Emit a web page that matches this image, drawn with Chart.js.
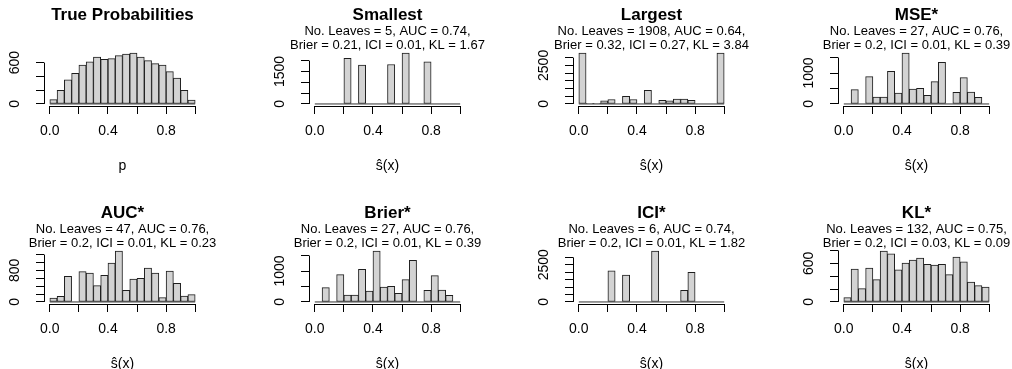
<!DOCTYPE html>
<html>
<head>
<meta charset="utf-8">
<script src="https://cdn.jsdelivr.net/npm/chart.js@4.4.1/dist/chart.umd.min.js"></script>
<style>
html, body { margin: 0; padding: 0; background: #fff; overflow: hidden; }
#wrap { position: relative; width: 1012px; height: 369px; overflow: hidden; }
#wrap canvas { position: absolute; }
</style>
</head>
<body>
<div id="wrap"></div>
<script>
// histogram bins are 0.05 wide, bars sit on the bin middles
const binMids = [0.025, 0.075, 0.125, 0.175, 0.225, 0.275, 0.325, 0.375, 0.425, 0.475,
                 0.525, 0.575, 0.625, 0.675, 0.725, 0.775, 0.825, 0.875, 0.925, 0.975];
const xTicks = [0, 0.2, 0.4, 0.6, 0.8, 1];
const xTickLabels = ['0.0', '', '0.4', '', '0.8', ''];

const titles = ['True Probabilities', 'Smallest', 'Largest', 'MSE*', 'AUC*', 'Brier*', 'ICI*', 'KL*'];
const subtitles = [
  ['', ''],
  ['No. Leaves = 5, AUC = 0.74,', 'Brier = 0.21, ICI = 0.01, KL = 1.67'],
  ['No. Leaves = 1908, AUC = 0.64,', 'Brier = 0.32, ICI = 0.27, KL = 3.84'],
  ['No. Leaves = 27, AUC = 0.76,', 'Brier = 0.2, ICI = 0.01, KL = 0.39'],
  ['No. Leaves = 47, AUC = 0.76,', 'Brier = 0.2, ICI = 0.01, KL = 0.23'],
  ['No. Leaves = 27, AUC = 0.76,', 'Brier = 0.2, ICI = 0.01, KL = 0.39'],
  ['No. Leaves = 6, AUC = 0.74,', 'Brier = 0.2, ICI = 0.01, KL = 1.82'],
  ['No. Leaves = 132, AUC = 0.75,', 'Brier = 0.2, ICI = 0.03, KL = 0.09']
];
const xTitles = ['p', 'ŝ(x)', 'ŝ(x)', 'ŝ(x)', 'ŝ(x)', 'ŝ(x)', 'ŝ(x)', 'ŝ(x)'];

// counts per bin
const countsTrue     = [62, 197, 350, 446, 566, 610, 682, 648, 658, 701, 725, 739, 682, 629, 586, 566, 470, 374, 197, 58];
const countsSmallest = [0, 0, 0, 0, 2100, 0, 1800, 0, 0, 0, 1820, 0, 2350, 0, 0, 1950, 0, 0, 0, 0];
const countsLargest  = [3300, 20, 20, 200, 290, 0, 490, 290, 0, 880, 0, 240, 200, 310, 310, 240, 0, 0, 0, 3300];
const countsMSE      = [0, 462, 0, 882, 226, 226, 1054, 355, 1645, 484, 505, 280, 720, 1344, 0, 376, 850, 387, 215, 0];
const countsAUC      = [101, 143, 649, 0, 767, 733, 413, 674, 986, 1290, 295, 582, 598, 860, 733, 110, 784, 472, 152, 185];
const countsBrier    = [0, 462, 0, 882, 226, 226, 1054, 355, 1645, 484, 505, 280, 720, 1344, 0, 376, 850, 387, 215, 0];
const countsICI      = [0, 0, 0, 0, 2096, 0, 1801, 0, 0, 0, 3425, 0, 0, 0, 774, 1986, 0, 0, 0, 0];
const countsKL       = [67, 511, 206, 526, 346, 790, 748, 500, 604, 650, 681, 583, 573, 583, 423, 697, 624, 310, 253, 232];

// y ticks and the labels R kept
const yTicksTrue = [0, 200, 400, 600];
const yLabelsTrue = ['0', '', '', '600'];
const yTicksSmallest = [0, 500, 1000, 1500, 2000];
const yLabelsSmallest = ['0', '', '', '1500', ''];
const yTicksLargest = [0, 500, 1000, 1500, 2000, 2500, 3000];
const yLabelsLargest = ['0', '', '', '', '', '2500', ''];
const yTicksMSE = [0, 500, 1000, 1500];
const yLabelsMSE = ['0', '', '1000', ''];
const yTicksAUC = [0, 200, 400, 600, 800, 1000, 1200];
const yLabelsAUC = ['0', '', '', '', '800', '', ''];
const yTicksKL = [0, 200, 400, 600, 800];
const yLabelsKL = ['0', '', '', '600', ''];

const panels = [
  [countsTrue, yTicksTrue, yLabelsTrue],
  [countsSmallest, yTicksSmallest, yLabelsSmallest],
  [countsLargest, yTicksLargest, yLabelsLargest],
  [countsMSE, yTicksMSE, yLabelsMSE],
  [countsAUC, yTicksAUC, yLabelsAUC],
  [countsBrier, yTicksMSE, yLabelsMSE],
  [countsICI, yTicksLargest, yLabelsLargest],
  [countsKL, yTicksKL, yLabelsKL]
];

Chart.defaults.font.family = '"Liberation Sans", Arial, Helvetica, sans-serif';
Chart.defaults.color = '#000';

const TICK = 8;
const FS = 14;

// R style axis lines: only from first to last tick, plus the bin base line
const rAxes = {
  id: 'rAxes',
  afterDraw(chart) {
    const {ctx, chartArea, scales} = chart;
    const x = scales.x, y = scales.y;
    const al = v => Math.round(v) + 0.5;
    const xa = x.getPixelForValue(xTicks[0]);
    const xb = x.getPixelForValue(xTicks[xTicks.length - 1]);
    const yt = y.ticks;
    ctx.save();
    ctx.lineWidth = 1;
    ctx.strokeStyle = '#000';
    ctx.beginPath();
    ctx.moveTo(xa, al(chartArea.bottom));
    ctx.lineTo(xb, al(chartArea.bottom));
    ctx.moveTo(al(chartArea.left), y.getPixelForValue(yt[0].value));
    ctx.lineTo(al(chartArea.left), y.getPixelForValue(yt[yt.length - 1].value));
    ctx.stroke();
    ctx.strokeStyle = '#333';
    ctx.beginPath();
    ctx.moveTo(x.getPixelForValue(0), y.getPixelForValue(0));
    ctx.lineTo(x.getPixelForValue(1), y.getPixelForValue(0));
    ctx.stroke();
    ctx.restore();
  }
};

const wrap = document.getElementById('wrap');

panels.forEach((p, i) => {
  const [counts, yTicks, yLabels] = p;
  const col = i % 4, row = Math.floor(i / 4);
  const cv = document.createElement('canvas');
  cv.width = 245;
  cv.height = 180;
  cv.style.left = Math.round(col * 264.67) + 'px';
  cv.style.top = (row * 198) + 'px';
  wrap.appendChild(cv);

  const top = Math.max(...counts);
  const widest = Math.max(...yLabels.map(s => s.length)) * 0.556 * FS;

  new Chart(cv, {
    type: 'bar',
    data: {
      datasets: [{
        data: binMids.map((m, k) => ({x: m, y: counts[k]})),
        backgroundColor: '#d3d3d3',
        borderColor: '#1e1e1e',
        borderWidth: 1,
        borderSkipped: false,
        barPercentage: 1,
        categoryPercentage: 1
      }]
    },
    options: {
      responsive: false,
      animation: false,
      devicePixelRatio: 1,
      layout: {padding: 0},
      plugins: {
        legend: {display: false},
        tooltip: {enabled: false},
        title: {
          display: true,
          text: titles[i],
          font: {size: 17, weight: 'bold'},
          color: '#000',
          padding: {top: 5, bottom: 0}
        },
        subtitle: {
          display: true,
          text: subtitles[i],
          font: {size: 13, lineHeight: 1.1},
          color: '#000',
          padding: {top: -1, bottom: -2}
        }
      },
      scales: {
        x: {
          type: 'linear',
          min: -0.04,
          max: 1.04,
          bounds: 'data',
          offset: false,
          afterBuildTicks: s => { s.ticks = xTicks.map(v => ({value: v})); },
          afterFit: s => { s.height = 74; },
          border: {display: false},
          grid: {offset: false, drawOnChartArea: false, drawTicks: true, tickLength: TICK, color: '#000'},
          ticks: {
            autoSkip: false, maxRotation: 0, padding: 9,
            font: {size: FS}, color: '#000',
            callback: (v, k) => xTickLabels[k]
          },
          title: {display: true, text: xTitles[i], font: {size: FS}, color: '#000', padding: {top: 0, bottom: 5}}
        },
        y: {
          type: 'linear',
          min: -0.04 * top,
          max: 1.04 * top,
          bounds: 'data',
          afterBuildTicks: s => { s.ticks = yTicks.map(v => ({value: v})); },
          afterFit: s => { s.width = 44; },
          border: {display: false},
          grid: {drawOnChartArea: false, drawTicks: true, tickLength: TICK, color: '#000'},
          ticks: {
            autoSkip: false, minRotation: 90, maxRotation: 90, crossAlign: 'center',
            padding: 29 - TICK - widest / 2,
            font: {size: FS}, color: '#000',
            callback: (v, k) => yLabels[k]
          }
        },
        yr: {
          position: 'right',
          display: true,
          ticks: {display: false},
          grid: {display: false},
          border: {display: false},
          afterFit: s => { s.width = 44; }
        }
      }
    },
    plugins: [rAxes]
  });
});
</script>
</body>
</html>
